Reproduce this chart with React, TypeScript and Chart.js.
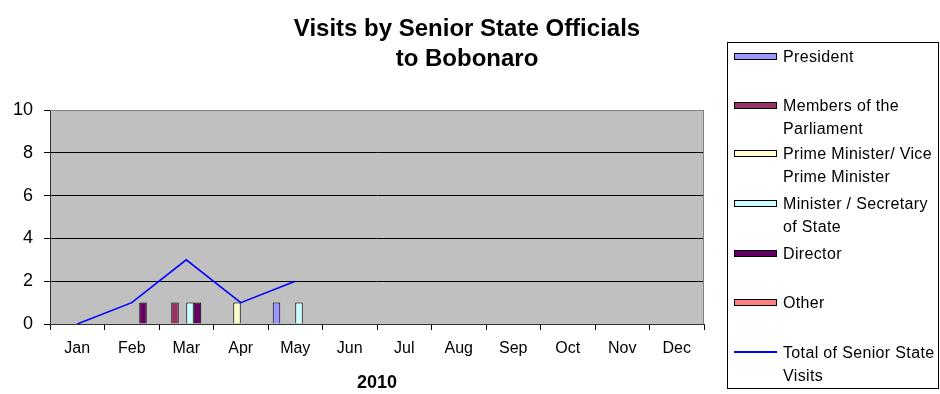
import React, { useEffect, useRef } from "react";
import { Chart, registerables } from "chart.js";

Chart.register(...registerables);

const FONT = '"Liberation Sans", Arial, Helvetica, sans-serif';

const MONTHS = ["Jan", "Feb", "Mar", "Apr", "May", "Jun", "Jul", "Aug", "Sep", "Oct", "Nov", "Dec"];
const YEAR_LABEL = "2010";
const TITLE_LINES = ["Visits by Senior State Officials", "to Bobonaro"];

const PRESIDENT = [0, 0, 0, 0, 1, 0, 0, 0, 0, 0, 0, 0];
const PARLIAMENT = [0, 0, 1, 0, 0, 0, 0, 0, 0, 0, 0, 0];
const PRIME_MINISTER = [0, 0, 0, 1, 0, 0, 0, 0, 0, 0, 0, 0];
const MINISTER = [0, 0, 1, 0, 1, 0, 0, 0, 0, 0, 0, 0];
const DIRECTOR = [0, 1, 1, 0, 0, 0, 0, 0, 0, 0, 0, 0];
const OTHER = [0, 0, 0, 0, 0, 0, 0, 0, 0, 0, 0, 0];
const TOTAL = [0, 1, 3, 1, 2, null, null, null, null, null, null, null];

const Y_TICKS = [0, 2, 4, 6, 8, 10];

const BAR_SERIES = [
  { label: "President", lines: ["President"], data: PRESIDENT, color: "#9999FF" },
  { label: "Members of the Parliament", lines: ["Members of the", "Parliament"], data: PARLIAMENT, color: "#993366" },
  { label: "Prime Minister/ Vice Prime Minister", lines: ["Prime Minister/ Vice", "Prime Minister"], data: PRIME_MINISTER, color: "#FFFFCC" },
  { label: "Minister / Secretary of State", lines: ["Minister / Secretary", "of State"], data: MINISTER, color: "#CCFFFF" },
  { label: "Director", lines: ["Director"], data: DIRECTOR, color: "#660066" },
  { label: "Other", lines: ["Other"], data: OTHER, color: "#FF8080" },
];
const LINE_SERIES = { label: "Total of Senior State Visits", lines: ["Total of Senior State", "Visits"], data: TOTAL, color: "#0000FF" };

const LEGEND_Y = [56, 105, 153, 203, 253, 302, 352];

const plotBg = {
  id: "plotBg",
  beforeDraw(chart: any) {
    const { ctx, chartArea: a } = chart;
    ctx.save();
    ctx.fillStyle = "#C0C0C0";
    ctx.fillRect(a.left, a.top, a.right - a.left, a.bottom - a.top);
    ctx.restore();
  },
  beforeDatasetsDraw(chart: any) {
    const { ctx, chartArea: a } = chart;
    ctx.save();
    ctx.strokeStyle = "#808080";
    ctx.lineWidth = 1;
    ctx.beginPath();
    ctx.moveTo(a.left, a.top + 0.5);
    ctx.lineTo(a.right - 0.5, a.top + 0.5);
    ctx.lineTo(a.right - 0.5, a.bottom);
    ctx.stroke();
    ctx.restore();
  },
};

export default function App() {
  const ref = useRef<HTMLCanvasElement | null>(null);

  useEffect(() => {
    document.body.style.margin = "0";
    const canvas = ref.current;
    if (!canvas) return;
    const datasets: any[] = BAR_SERIES.map((s) => ({
      type: "bar",
      label: s.label,
      data: s.data,
      backgroundColor: s.color,
      borderColor: "#000000",
      borderWidth: 1,
      categoryPercentage: 0.826,
      barPercentage: 1,
      order: 1,
    }));
    datasets.push({
      type: "line",
      label: LINE_SERIES.label,
      data: LINE_SERIES.data,
      borderColor: LINE_SERIES.color,
      borderWidth: 1.5,
      pointRadius: 0,
      tension: 0,
      fill: false,
      order: 0,
    });
    const chart = new Chart(canvas, {
      type: "bar",
      data: { labels: MONTHS, datasets },
      options: {
        responsive: false,
        maintainAspectRatio: false,
        animation: false,
        devicePixelRatio: 1,
        layout: { padding: { left: 0, right: 236, top: 110, bottom: 0 } },
        plugins: {
          legend: { display: false },
          title: { display: false },
          tooltip: { enabled: false },
        },
        scales: {
          x: {
            offset: true,
            grid: { offset: true, drawOnChartArea: false, drawTicks: true, tickLength: 6, tickColor: "#000000" },
            border: { display: true, color: "#333333", width: 1 },
            ticks: { color: "#000000", font: { family: FONT, size: 16 }, padding: 9, maxRotation: 0, autoSkip: false },
            title: { display: true, text: YEAR_LABEL, color: "#000000", font: { family: FONT, size: 18, weight: "bold" }, padding: { top: 0, bottom: 0 } },
            afterFit: (s: any) => { s.height = 70; },
          },
          y: {
            min: 0,
            max: 10,
            afterBuildTicks: (s: any) => { s.ticks = Y_TICKS.map((v) => ({ value: v })); },
            grid: {
              color: (c: any) => (c.tick && c.tick.value === 10 ? "#808080" : "#000000"),
              tickColor: "#000000",
              tickLength: 6,
              drawTicks: true,
            },
            border: { display: true, color: "#333333", width: 1 },
            ticks: { color: "#000000", font: { family: FONT, size: 18 }, padding: 11 },
            afterFit: (s: any) => { s.width = 50; },
          },
        },
      },
      plugins: [plotBg],
    } as any);
    return () => chart.destroy();
  }, []);

  const legendItems = [...BAR_SERIES.map((s) => ({ ...s, isLine: false })), { ...LINE_SERIES, isLine: true }];

  return (
    <div style={{ position: "relative", width: 940, height: 394, background: "#ffffff", fontFamily: FONT, overflow: "hidden" }}>
      <canvas ref={ref} width={940} height={394} style={{ position: "absolute", left: 0, top: 0, width: 940, height: 394 }} />
      {TITLE_LINES.map((t, i) => (
        <div
          key={t}
          style={{
            position: "absolute",
            left: 267,
            width: 400,
            top: 28 + i * 30 - 14,
            height: 28,
            lineHeight: "28px",
            textAlign: "center",
            fontWeight: "bold",
            fontSize: 24,
            color: "#000",
            whiteSpace: "nowrap",
          }}
        >
          {t}
        </div>
      ))}
      <div
        style={{
          position: "absolute",
          left: 727,
          top: 42,
          width: 212,
          height: 347,
          border: "1px solid #000",
          boxSizing: "border-box",
        }}
      />
      {legendItems.map((it, i) => {
        const cy = LEGEND_Y[i];
        return (
          <React.Fragment key={it.label}>
            {it.isLine ? (
              <div style={{ position: "absolute", left: 734, top: cy - 1, width: 43, height: 2, background: it.color }} />
            ) : (
              <div
                style={{
                  position: "absolute",
                  left: 734,
                  top: cy - 3.5,
                  width: 43,
                  height: 7,
                  background: it.color,
                  border: "1px solid #000",
                  boxSizing: "border-box",
                }}
              />
            )}
            <div
              style={{
                position: "absolute",
                left: 783,
                top: cy - 11.5,
                fontSize: 16,
                lineHeight: "23px",
                letterSpacing: "0.35px",
                color: "#000",
                whiteSpace: "nowrap",
              }}
            >
              {it.lines.map((l) => (
                <div key={l}>{l}</div>
              ))}
            </div>
          </React.Fragment>
        );
      })}
    </div>
  );
}
